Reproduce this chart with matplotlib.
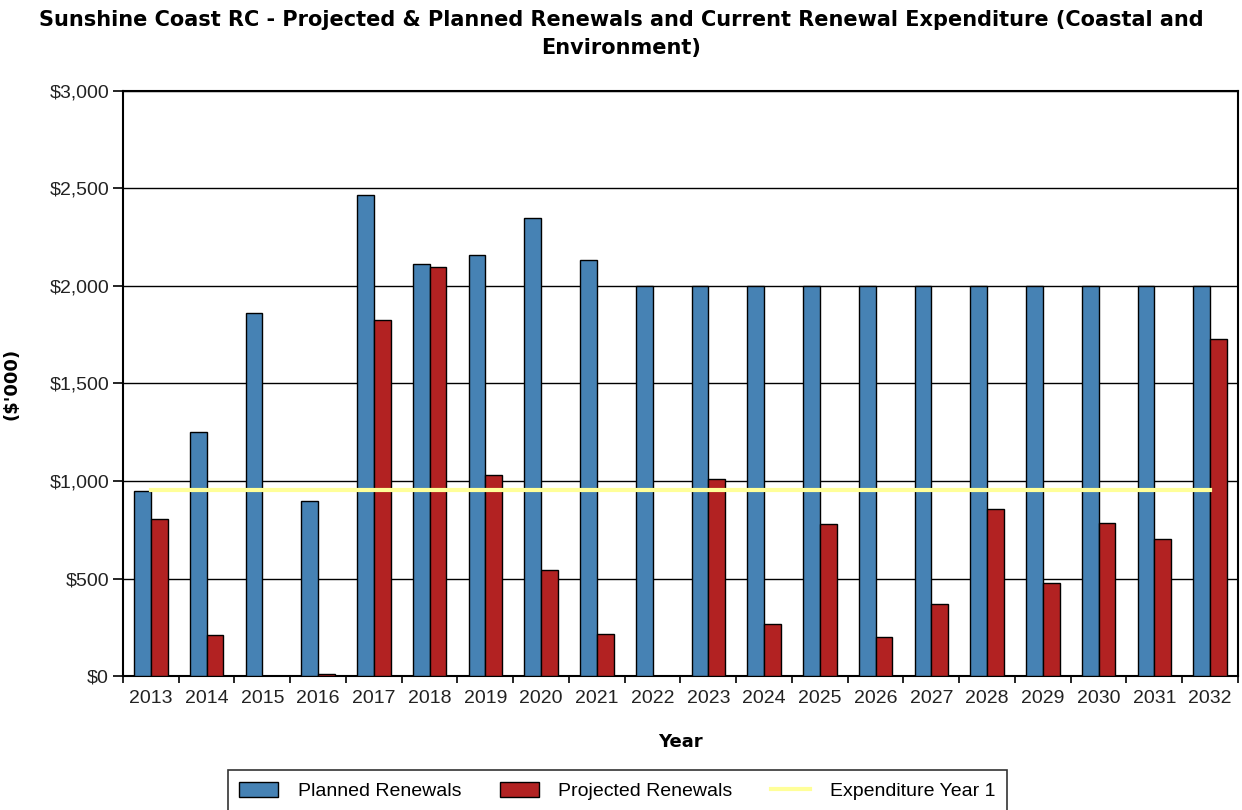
import matplotlib.pyplot as plt
import numpy as np
from matplotlib.ticker import FuncFormatter

years = [str(y) for y in range(2013, 2033)]
planned = [950, 1250, 1860, 900, 2465, 2115, 2160, 2350, 2135, 2000,
           2000, 2000, 2000, 2000, 2000, 2000, 2000, 2000, 2000, 2000]
projected = [805, 210, 0, 8, 1825, 2095, 1030, 545, 215, 0,
             1010, 265, 780, 200, 370, 855, 475, 785, 705, 1730]
expenditure_y1 = 955

x = np.arange(len(years))

fig = plt.figure(figsize=(12.42, 8.10), dpi=100)
ax = fig.add_axes([0.099, 0.1654, 0.8977, 0.7223])

b1 = ax.bar(x - 0.15, planned, width=0.3, color='#4682B4', edgecolor='black',
            linewidth=1, label='Planned Renewals', zorder=3)
b2 = ax.bar(x + 0.15, projected, width=0.3, color='#B22222', edgecolor='black',
            linewidth=1, label='Projected Renewals', zorder=3)
ln, = ax.plot(x, [expenditure_y1] * len(x), color='#FFFF99', linewidth=3,
              label='Expenditure Year 1', zorder=4)

ax.set_xlim(-0.5, len(years) - 0.5)
ax.set_ylim(0, 3000)
ax.set_yticks(range(0, 3001, 500))
ax.yaxis.set_major_formatter(FuncFormatter(lambda v, p: '${:,.0f}'.format(v)))
ax.grid(axis='y', color='black', linewidth=1, zorder=0)

ax.set_xticks(x)
ax.set_xticklabels(years)
ax.set_xticks(np.arange(-0.5, len(years), 1), minor=True)
ax.tick_params(axis='x', which='major', length=0, pad=10)
ax.tick_params(axis='x', which='minor', length=5, width=1.2, direction='out')
ax.tick_params(axis='y', length=7, width=1.2, direction='out', pad=3)
for lab in ax.get_xticklabels() + ax.get_yticklabels():
    lab.set_fontfamily('Liberation Sans')
    lab.set_fontsize(14)
    lab.set_color('#222222')

for s in ax.spines.values():
    s.set_linewidth(1.5)
    s.set_color('black')

ax.set_xlabel('Year', fontsize=13, fontweight='bold')
ax.xaxis.set_label_coords(0.5, -0.098)
ax.set_ylabel("($'000)", fontsize=13, fontweight='bold')
ax.yaxis.set_label_coords(-0.092, 0.5)

fig.suptitle('Sunshine Coast RC - Projected & Planned Renewals and Current Renewal Expenditure (Coastal and\nEnvironment)',
             fontsize=15, fontweight='bold', y=0.988, x=0.5, linespacing=1.5)

leg = fig.legend([b1, b2, ln], ['Planned Renewals', 'Projected Renewals', 'Expenditure Year 1'],
                 loc='upper center', bbox_to_anchor=(0.497, 0.0494), ncol=3,
                 frameon=True, fancybox=False, edgecolor='black',
                 prop={'family': 'Liberation Sans', 'size': 14},
                 handlelength=2.0, handleheight=0.8, columnspacing=2.0,
                 borderpad=0.6, handletextpad=1.0, borderaxespad=0)
leg.get_frame().set_linewidth(1.2)

fig.savefig('out.png', dpi=100)
